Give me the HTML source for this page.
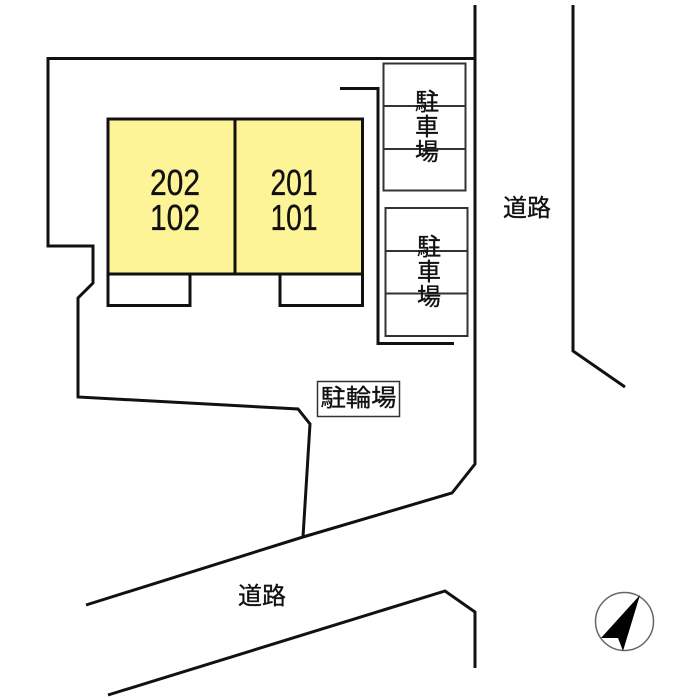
<!DOCTYPE html>
<html><head><meta charset="utf-8">
<style>html,body{margin:0;padding:0;background:#fff}svg{display:block}
text{font-family:"Liberation Sans","Noto Sans CJK JP",sans-serif;fill:#111;stroke:#111;stroke-width:.35}</style></head>
<body>
<svg width="700" height="700" viewBox="0 0 700 700" xmlns="http://www.w3.org/2000/svg">
<rect width="700" height="700" fill="#fff"/>
<g fill="none" stroke="#111" stroke-width="3">
<rect x="108" y="119" width="254.500" height="155" fill="#fdf397"/>
<line x1="235" y1="119" x2="235" y2="274"/>
<polyline points="108,274 108,305.500 190,305.500 190,274"/>
<polyline points="280,274 280,305.500 362.500,305.500 362.500,274"/>
<polyline points="475,5 475,464 452,493 303,537 86,605"/>
<polyline points="475,58.500 48,58.500 48,246 93,246 93,283 78,298 78,397 298,409 310,424 303,537"/>
<polyline points="340,88.500 378,88.500 378,343.500 454,343.500"/>
<polyline points="573,5 573,351 625,387"/>
<polyline points="108,695 445,591 475,612 475,668"/>
</g>
<g fill="none" stroke="#333" stroke-width="2">
<rect x="383.500" y="63.500" width="82" height="127"/>
<line x1="383" y1="106" x2="465" y2="106"/>
<line x1="383" y1="149" x2="465" y2="149"/>
<rect x="385.500" y="208" width="82" height="128"/>
<line x1="385" y1="251" x2="467" y2="251"/>
<line x1="385" y1="293.500" x2="467" y2="293.500"/>
</g>
<rect x="317.500" y="381.500" width="82" height="35" fill="#fff" stroke="#333" stroke-width="1.500"/>
<g font-size="24" text-anchor="middle">
<text x="427" y="110">駐</text><text x="427" y="135">車</text><text x="427" y="160">場</text>
<text x="429" y="255">駐</text><text x="429" y="280">車</text><text x="429" y="305">場</text>
</g>
<text x="358.500" y="406" font-size="24" text-anchor="middle" textLength="76" lengthAdjust="spacingAndGlyphs">駐輪場</text>
<text x="527" y="216" font-size="24" text-anchor="middle">道路</text>
<text x="262" y="604" font-size="24" text-anchor="middle">道路</text>
<g font-size="36" text-anchor="middle">
<text x="175" y="195" textLength="50" lengthAdjust="spacingAndGlyphs">202</text>
<text x="175" y="230" textLength="50" lengthAdjust="spacingAndGlyphs">102</text>
<text x="294" y="195" textLength="47" lengthAdjust="spacingAndGlyphs">201</text>
<text x="294" y="230" textLength="47" lengthAdjust="spacingAndGlyphs">101</text>
</g>
<circle cx="624.500" cy="621.500" r="29" fill="#fff" stroke="#666" stroke-width="1.500"/>
<polygon points="640,595 601,638 618,638 623,651" fill="#000"/>
</svg>
</body></html>
